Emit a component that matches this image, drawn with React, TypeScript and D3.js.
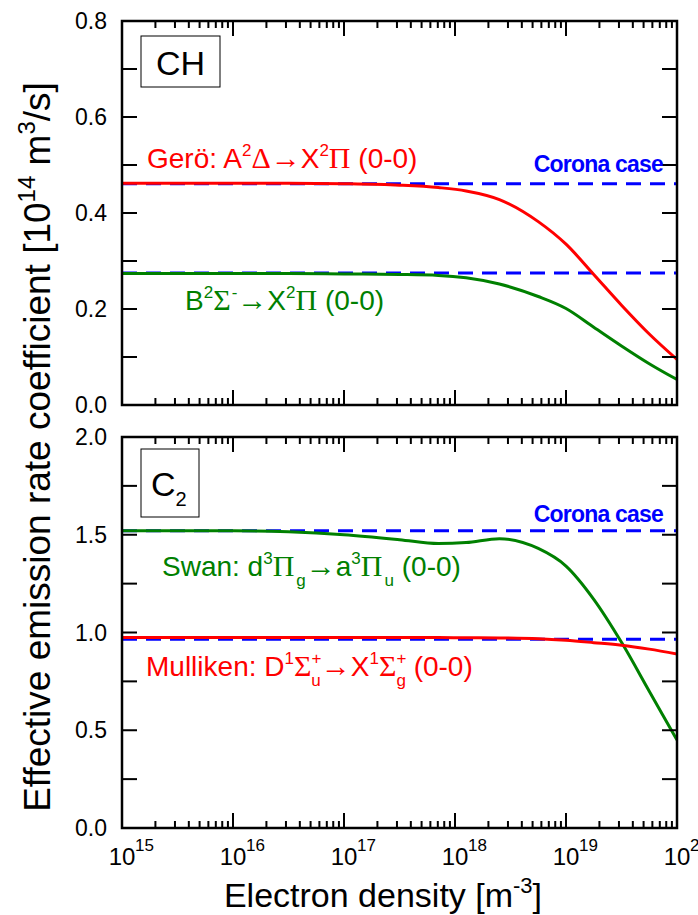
import React from 'react';
import * as d3 from 'd3';

// log10 of electron density [m^-3] at the sampled points
const logNe = [15, 16, 16.5, 17, 17.5, 17.85, 18.1, 18.4, 18.75, 19, 19.25, 19.5, 19.75, 20];

// CH panel
const chGero = [0.462, 0.462, 0.462, 0.461, 0.458, 0.453, 0.446, 0.428, 0.382, 0.335, 0.272, 0.208, 0.148, 0.095];
const chB = [0.274, 0.274, 0.274, 0.273, 0.272, 0.27, 0.265, 0.252, 0.226, 0.201, 0.162, 0.123, 0.086, 0.053];
const chCorona = [0.461, 0.275];

// C2 panel
const c2Swan = [1.52, 1.52, 1.515, 1.5, 1.475, 1.455, 1.46, 1.48, 1.43, 1.34, 1.17, 0.95, 0.7, 0.45];
const c2Mulliken = [0.975, 0.975, 0.975, 0.975, 0.975, 0.974, 0.973, 0.972, 0.968, 0.96, 0.948, 0.935, 0.915, 0.89];
const c2Corona = [1.52, 0.965];

const xDecades = [15, 16, 17, 18, 19, 20];
const chTicks = [0, 0.2, 0.4, 0.6, 0.8];
const c2Ticks = [0, 0.5, 1.0, 1.5, 2.0];

const FONT = 'Liberation Sans, Arial, sans-serif';
const GREEK = 'Liberation Serif, Times New Roman, serif';
const L = 122, R = 677;

const x = d3.scaleLinear().domain([15, 20]).range([L, R]);
const yCH = d3.scaleLinear().domain([0, 0.8]).range([405, 21]);
const yC2 = d3.scaleLinear().domain([0, 2.0]).range([828, 437]);

// rich label: [kind, text, dx]
type Seg = [string, string, number?];
const Rich = ({ x0, y0, fill, segs }: { x0: number; y0: number; fill: string; segs: Seg[] }) => {
  let cur = 0;
  return (
    <text x={x0} y={y0} fontSize={28} fontFamily={FONT} fill={fill}>
      {segs.map(([k, t, dx], i) => {
        const target = k === 'sup' ? -12 : k === 'sub' ? 10 : 0;
        const dy = target - cur;
        cur = target;
        const small = k === 'sup' || k === 'sub';
        return (
          <tspan key={i} dx={dx || 0} dy={dy}
            fontSize={small ? 17 : k === 'g' || k === 'a' ? 30 : 28}
            fontFamily={k === 'g' || k === 'a' ? GREEK : FONT}>{t}</tspan>
        );
      })}
    </text>
  );
};

// inward tick marks on all four sides of a panel, as thin filled rects
const tickRects = (y: d3.ScaleLinear<number, number>, minorStep: number) => {
  const [bottom, top] = y.range();
  const max = y.domain()[1];
  const out: { x: number; y: number; w: number; h: number }[] = [];
  xDecades.forEach(d => {
    const xs: [number, number][] = [[x(d), 15]];
    if (d < 20) for (let k = 2; k <= 9; k++) xs.push([x(d + Math.log10(k)), 7]);
    xs.forEach(([v, len]) => {
      out.push({ x: v - 1, y: bottom - len, w: 2, h: len });
      out.push({ x: v - 1, y: top, w: 2, h: len });
    });
  });
  d3.range(0, max + 1e-9, minorStep).forEach(t => {
    out.push({ x: L, y: y(t) - 1, w: 15, h: 2 });
    out.push({ x: R - 15, y: y(t) - 1, w: 15, h: 2 });
  });
  return out;
};

type PanelProps = {
  y: d3.ScaleLinear<number, number>; ticks: number[]; minorStep: number;
  series: { values: number[]; color: string }[]; corona: number[]; id: string;
};

const Panel = ({ y, ticks, minorStep, series, corona, id }: PanelProps) => {
  const [bottom, top] = y.range();
  const line = d3.line<number>().x((_, i) => x(logNe[i])).y(d => y(d)).curve(d3.curveMonotoneX);
  return (
    <g>
      <defs>
        <clipPath id={id}><rect x={L} y={top} width={R - L} height={bottom - top} /></clipPath>
      </defs>
      <g clipPath={`url(#${id})`}>
        {corona.map((c, i) => (
          <line key={i} x1={L} x2={R} y1={y(c)} y2={y(c)} stroke="#0000ff" strokeWidth={3} strokeDasharray="15,9" />
        ))}
        {series.map((s, i) => (
          <path key={i} d={line(s.values) || ''} fill="none" stroke={s.color} strokeWidth={3} />
        ))}
      </g>
      {tickRects(y, minorStep).map((r, i) => (
        <rect key={i} x={r.x} y={r.y} width={r.w} height={r.h} fill="#000" />
      ))}
      {ticks.map(t => (
        <text key={t} x={107} y={y(t) + 8} textAnchor="end" fontSize={23} fontFamily={FONT}>{t.toFixed(1)}</text>
      ))}
      <rect x={L} y={top} width={R - L} height={bottom - top} fill="none" stroke="#000" strokeWidth={2.5} />
    </g>
  );
};

const App = () => (
  <svg width={698} height={915} style={{ position: 'absolute', left: 0, top: 0, background: '#fff' }}>
    <Panel id="clipCH" y={yCH} ticks={chTicks} minorStep={0.1}
      series={[{ values: chGero, color: '#ff0000' }, { values: chB, color: '#008000' }]} corona={chCorona} />
    <Panel id="clipC2" y={yC2} ticks={c2Ticks} minorStep={0.25}
      series={[{ values: c2Swan, color: '#008000' }, { values: c2Mulliken, color: '#ff0000' }]} corona={c2Corona} />

    {/* panel boxes */}
    <rect x={141} y={36} width={79} height={51} fill="#fff" stroke="#000" strokeWidth={1} />
    <text x={180.5} y={75} textAnchor="middle" fontSize={34} fontFamily={FONT}>CH</text>
    <rect x={141} y={449} width={58} height={68} fill="#fff" stroke="#000" strokeWidth={1} />
    <text x={151} y={496} fontSize={34} fontFamily={FONT}>C<tspan dy={10} fontSize={20}>2</tspan></text>

    {/* CH labels */}
    <Rich x0={147} y0={168} fill="#ff0000" segs={[
      ['n', 'Gerö: A'], ['sup', '2'], ['g', 'Δ'], ['a', '→'], ['n', 'X'], ['sup', '2'], ['g', 'Π'], ['n', ' (0-0)'],
    ]} />
    <Rich x0={185} y0={310} fill="#008000" segs={[
      ['n', 'B'], ['sup', '2'], ['g', 'Σ'], ['sup', '-', 1], ['a', '→'], ['n', 'X'], ['sup', '2'], ['g', 'Π'], ['n', ' (0-0)'],
    ]} />
    <text x={663} y={172} textAnchor="end" fontSize={23} fontWeight="bold" fontFamily={FONT} fill="#0000ff" letterSpacing={-0.8}>Corona case</text>

    {/* C2 labels */}
    <text x={663} y={522} textAnchor="end" fontSize={23} fontWeight="bold" fontFamily={FONT} fill="#0000ff" letterSpacing={-0.8}>Corona case</text>
    <Rich x0={162} y0={576} fill="#008000" segs={[
      ['n', 'Swan: d'], ['sup', '3'], ['g', 'Π'], ['sub', 'g', 2], ['a', '→'], ['n', 'a'], ['sup', '3'], ['g', 'Π'], ['sub', 'u', 2], ['n', ' (0-0)'],
    ]} />
    <Rich x0={146} y0={676} fill="#ff0000" segs={[
      ['n', 'Mulliken: D'], ['sup', '1'], ['g', 'Σ'], ['sup', '+'], ['sub', 'u', -10], ['a', '→'],
      ['n', 'X'], ['sup', '1'], ['g', 'Σ'], ['sup', '+'], ['sub', 'g', -10], ['n', ' (0-0)'],
    ]} />

    {/* x tick labels */}
    {xDecades.map(d => (
      <g key={d}>
        <text x={x(d)} y={865} textAnchor="middle" fontSize={24} fontFamily={FONT}>10</text>
        <text x={x(d) + 13} y={851} fontSize={17} fontFamily={FONT}>{d}</text>
      </g>
    ))}

    {/* axis titles */}
    <text x={383} y={907} textAnchor="middle" fontSize={34} fontFamily={FONT}>
      Electron density [m<tspan dy={-14} fontSize={22}>-3</tspan><tspan dy={14}>]</tspan>
    </text>
    <text transform="translate(50,447) rotate(-90)" textAnchor="middle" fontSize={37} fontFamily={FONT}>
      Effective emission rate coefficient [10<tspan dy={-15} fontSize={24}>14</tspan><tspan dy={15}> m</tspan><tspan dy={-15} fontSize={24}>3</tspan><tspan dy={15}>/s]</tspan>
    </text>
  </svg>
);

export default App;
